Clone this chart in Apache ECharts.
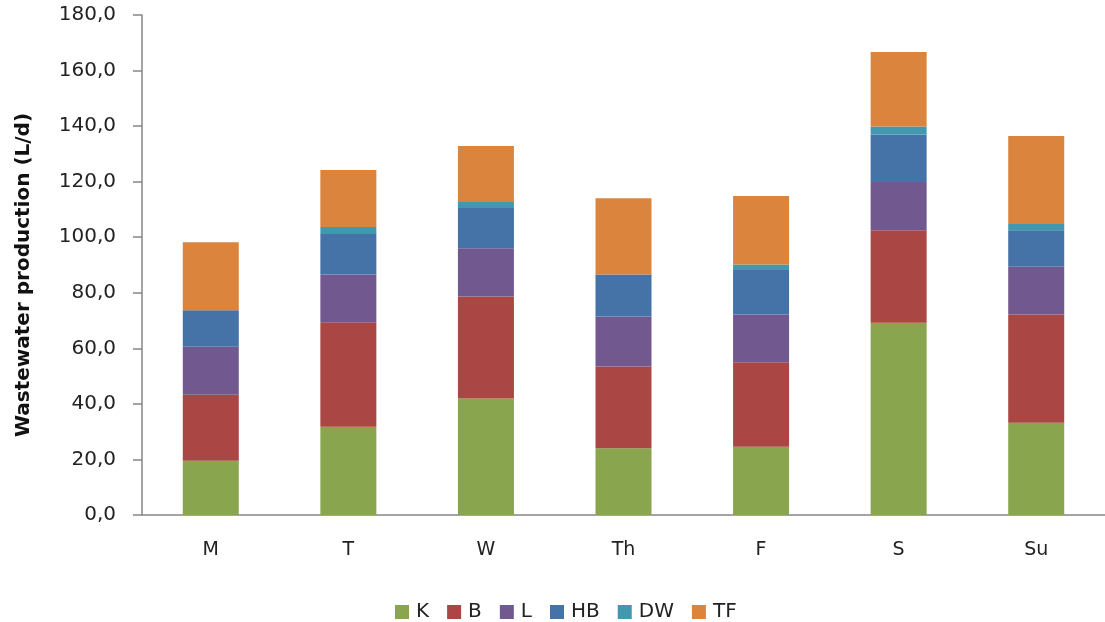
<!DOCTYPE html>
<html>
<head>
<meta charset="utf-8">
<script src="https://cdn.jsdelivr.net/npm/echarts@6/dist/echarts.min.js"></script>
<style>
  html, body { margin: 0; padding: 0; background: #fff; }
  #chart { width: 1105px; height: 622px; }
</style>
</head>
<body>
<div id="chart"></div>
<script>
// days of the week
const days = ['M', 'T', 'W', 'Th', 'F', 'S', 'Su'];
// wastewater per source (L/d)
const kData = [19.5, 31.8, 41.9, 24.0, 24.6, 69.2, 33.2];
const bData = [23.8, 37.6, 36.8, 29.5, 30.4, 33.3, 39.0];
const lData = [17.3, 17.2, 17.3, 18.0, 17.2, 17.4, 17.2];
const hbData = [13.1, 14.6, 14.5, 15.1, 16.0, 17.1, 13.1];
const dwData = [0, 2.5, 2.2, 0, 2.0, 2.9, 2.3];
const tfData = [24.5, 20.5, 20.1, 27.4, 24.6, 26.8, 31.6];
const yTicks = [0, 20, 40, 60, 80, 100, 120, 140, 160, 180];

const font = 'DejaVu Sans';
const txt = '#222';
const axisGray = '#868686';

const mChart = echarts.init(document.getElementById('chart'));

function bar(name, data) {
  return {
    name: name,
    type: 'bar',
    stack: 'total',
    data: data,
    barWidth: 56,
    emphasis: {disabled: true}
  };
}

const option = {
  animation: false,
  backgroundColor: '#fff',
  color: ['#89A54E', '#AA4643', '#71588F', '#4572A7', '#4198AF', '#DB843D'],
  grid: {left: 142, top: 15, height: 500, width: 966},
  legend: {
    left: 390,
    top: 597,
    itemWidth: 14,
    itemHeight: 14,
    itemGap: 18,
    icon: 'rect',
    textStyle: {fontFamily: font, fontSize: 20, color: txt, padding: [0, 0, 0, 2]},
    data: ['K', 'B', 'L', 'HB', 'DW', 'TF']
  },
  xAxis: {
    type: 'category',
    data: days,
    boundaryGap: true,
    axisLine: {lineStyle: {color: axisGray, width: 1.5}},
    axisTick: {length: 8, lineStyle: {color: axisGray, width: 1.5}},
    axisLabel: {fontFamily: font, fontSize: 19, color: txt, margin: 26}
  },
  yAxis: {
    type: 'value',
    min: 0,
    max: yTicks[yTicks.length - 1],
    interval: yTicks[1] - yTicks[0],
    name: 'Wastewater production (L/d)',
    nameLocation: 'middle',
    nameGap: 108,
    nameTextStyle: {fontFamily: font, fontSize: 20, fontWeight: 'bold', color: '#111', padding: [0, 20, 0, 0]},
    axisLine: {show: true, lineStyle: {color: axisGray, width: 1.5}},
    axisTick: {show: true, length: 9, lineStyle: {color: axisGray, width: 1.5}},
    splitLine: {show: false},
    axisLabel: {
      fontFamily: font,
      fontSize: 20,
      color: txt,
      margin: 26,
      formatter: v => v.toFixed(1).replace('.', ',')
    }
  },
  series: [
    bar('K', kData),
    bar('B', bData),
    bar('L', lData),
    bar('HB', hbData),
    bar('DW', dwData),
    bar('TF', tfData)
  ]
};

mChart.setOption(option);
</script>
</body>
</html>
